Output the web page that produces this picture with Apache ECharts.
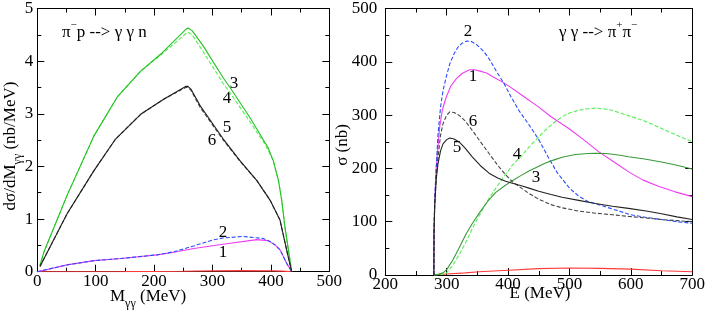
<!DOCTYPE html>
<html><head><meta charset="utf-8">
<script src="https://cdn.jsdelivr.net/npm/echarts@6/dist/echarts.min.js"></script>
<style>html,body{margin:0;padding:0;background:#fff}#c{width:708px;height:310px}</style>
</head><body><div id="c"></div>
<script>
// ---------- Left panel: pi- p --> gamma gamma n ; dsigma/dM (nb/MeV) vs M (MeV)
const leftXTicks = [0, 100, 200, 300, 400, 500];
const leftYTicks = [0, 1, 2, 3, 4, 5];
// curve 1 (magenta solid)
const l1M = [0, 51, 97, 143, 205, 234, 268, 318, 376, 395, 408, 416, 427, 435.6];
const l1V = [0, 0.13, 0.21, 0.25, 0.32, 0.37, 0.44, 0.52, 0.61, 0.59, 0.5, 0.41, 0.16, 0];
// curve 2 (blue dashed)
const l2M = [0, 51, 97, 143, 205, 234, 268, 300, 318, 353, 387, 400, 408, 416, 427, 435.6];
const l2V = [0, 0.13, 0.21, 0.25, 0.32, 0.38, 0.49, 0.6, 0.64, 0.67, 0.63, 0.57, 0.5, 0.41, 0.16, 0];
// curve 3 (green solid)
const l3M = [4.6, 11.5, 51, 97, 137, 177, 214, 254, 258, 265, 284, 318, 330, 364, 395, 404, 413, 418.5, 424, 430, 435.6];
const l3V = [0.12, 0.38, 1.45, 2.58, 3.32, 3.81, 4.16, 4.6, 4.63, 4.58, 4.29, 3.69, 3.5, 2.93, 2.36, 2.11, 1.73, 1.36, 0.85, 0.41, 0];
// curve 4 (green dashed)
const l4M = [4.6, 11.5, 51, 97, 137, 177, 214, 254, 258, 265, 284, 318, 330, 364, 390, 404, 413, 418.5, 424, 430, 435.6];
const l4V = [0.12, 0.38, 1.45, 2.58, 3.32, 3.81, 4.14, 4.52, 4.55, 4.5, 4.18, 3.58, 3.4, 2.85, 2.42, 2.11, 1.73, 1.36, 0.85, 0.41, 0];
// curve 5 (black solid)
const l5M = [4.6, 51, 97, 134, 177, 217, 254, 258, 263, 279, 318.5, 347, 376, 398.5, 415.6, 427, 435.6];
const l5V = [0.1, 1.1, 1.92, 2.52, 2.99, 3.28, 3.52, 3.52, 3.47, 3.15, 2.52, 2.11, 1.73, 1.36, 0.98, 0.41, 0];
// curve 6 (black dashed)
const l6M = [4.6, 51, 97, 134, 177, 217, 254, 258, 263, 279, 318.5, 347, 376, 398.5, 415.6, 427, 435.6];
const l6V = [0.1, 1.1, 1.92, 2.52, 2.99, 3.28, 3.5, 3.5, 3.45, 3.12, 2.5, 2.1, 1.73, 1.36, 0.98, 0.41, 0];
// unlabeled red curve
const l0M = [0, 150, 250, 300, 350, 400, 420, 435.6];
const l0V = [0, 0.002, 0.008, 0.015, 0.02, 0.015, 0.01, 0];

// ---------- Right panel: gamma gamma --> pi+ pi- ; sigma (nb) vs E (MeV)
const rightXTicks = [200, 300, 400, 500, 600, 700];
const rightYTicks = [0, 100, 200, 300, 400, 500];
const r1E = [279.1, 279.4, 280.5, 283, 288.5, 293, 299, 307, 315.5, 325, 337, 345, 353, 365, 375, 394, 403, 418, 434, 451, 470, 500, 525, 548, 575, 597, 620, 646, 672, 700];
const r1S = [0, 80, 135, 202, 277, 310, 333, 355, 368, 378, 385, 385, 383, 379, 372, 360, 353, 341, 328, 314, 297, 274, 252, 231, 210, 193, 178, 166, 156, 147];
const r2E = [279.1, 279.4, 280.5, 282, 285.8, 290, 294, 300, 305, 312, 318, 325, 333, 340, 348, 360, 370, 380, 394, 405, 418, 434, 450, 465, 480, 500, 515, 530, 553, 575, 600, 625, 650, 675, 700];
const r2S = [0, 80, 140, 180, 262, 315, 346, 375, 396, 415, 427, 435, 439, 438, 433, 420, 404, 384, 358, 334, 308, 282, 254, 222, 192, 163, 148, 138, 130, 122, 113, 108, 104, 100, 97];
const r3E = [279.1, 285, 294, 300, 310, 320, 332, 342, 353, 366, 380, 394, 407, 420, 434, 450, 461, 475, 488, 510, 530, 542, 560, 580, 596, 620, 650, 675, 700];
const r3S = [0, 1, 4, 10, 28, 50, 78, 97, 116, 137, 155, 167, 177, 186, 195, 204, 210, 216, 221, 226, 228, 228.5, 228, 225, 222, 218, 212, 206, 199];
const r4E = [279.1, 290, 299, 310, 321, 332, 342, 355, 369, 383, 396, 407, 423, 434, 450, 461, 475, 488, 500, 515, 530, 542, 555, 569, 585, 596, 620, 650, 675, 700];
const r4S = [0, 0.5, 3, 18, 40, 63, 88, 116, 144, 168, 189, 206, 225, 240, 259, 272, 286, 297, 304, 309, 312, 313, 312, 309, 303, 299, 290, 275, 262, 250];
const r5E = [279.1, 279.4, 280.5, 283, 285.8, 290, 294, 300, 305, 312, 321, 330, 342, 355, 369, 383, 396, 407, 423, 434, 450, 470, 488, 515, 542, 570, 596, 625, 650, 675, 700];
const r5S = [0, 80, 130, 180, 209, 233, 246, 254, 257, 255, 249, 238, 221, 205, 191, 182, 176, 172, 167, 163, 157, 151, 146, 140, 134, 129, 125, 120, 115, 109, 104];
const r6E = [279.1, 279.4, 280.5, 283, 285.8, 290, 294, 300, 305, 312, 321, 330, 342, 355, 369, 383, 396, 407, 423, 434, 450, 470, 488, 515, 542, 570, 596, 625, 650, 675, 700];
const r6S = [0, 80, 135, 185, 220, 262, 284, 300, 306, 305, 299, 289, 271, 250, 228, 206, 188, 175, 162, 153, 142, 132, 126, 120, 116, 113, 110, 107, 104, 102, 100];
const r0E = [279.1, 300, 330, 353, 400, 450, 500, 550, 600, 650, 700];
const r0S = [0, 2, 4, 6, 9, 12, 13, 12.5, 11, 8, 6];

// ---------- build
const FONT = 'Liberation Serif';
const zip = (xs, ys) => xs.map((x, i) => [x, ys[i]]);
const C = { mag: '#f03cf0', blue: '#2a4cff', green: '#22c022', greenR: '#3a9a3a', greenD: '#55ee55', black: '#222', blackD: '#444', red: '#ff3a3a' };

function axis(grid, pos, ticks, labels, margin) {
  return {
    type: 'value', gridIndex: grid, position: pos,
    min: ticks[0], max: ticks[ticks.length - 1], interval: ticks[1] - ticks[0],
    axisLine: { show: true, onZero: false, lineStyle: { color: '#000', width: 1 } },
    axisTick: { show: true, inside: true, length: 7, lineStyle: { color: '#000', width: 1 } },
    minorTick: { show: true, splitNumber: 2, length: 4, lineStyle: { color: '#000', width: 1 } },
    splitLine: { show: false }, minorSplitLine: { show: false },
    axisLabel: { show: labels, color: '#000', fontFamily: FONT, fontSize: 17, margin: margin }
  };
}
function line(xi, yi, data, color, dashed) {
  return {
    type: 'line', xAxisIndex: xi, yAxisIndex: yi, data: data, symbol: 'none', showSymbol: false,
    smooth: false,
    lineStyle: { color: color, width: 1.1, type: dashed ? [4, 2] : 'solid' },
    silent: true, animation: false
  };
}
function label(x, y, t) {
  return { type: 'text', x: x, y: y, style: { text: t, fontFamily: FONT, fontSize: 17, fill: '#000', align: 'center', verticalAlign: 'middle' } };
}
const richBase = {
  a: { fontFamily: FONT, fontSize: 17, fill: '#000', lineHeight: 26, verticalAlign: 'middle' },
  sup: { fontFamily: FONT, fontSize: 11, fill: '#000', lineHeight: 11, verticalAlign: 'top' },
  sub: { fontFamily: FONT, fontSize: 12, fill: '#000', lineHeight: 12, verticalAlign: 'bottom' }
};

const chart = echarts.init(document.getElementById('c'), null, { renderer: 'canvas' });
chart.setOption({
  animation: false,
  backgroundColor: '#fff',
  grid: [
    { left: 37.3, right: 378.7, top: 7.2, bottom: 38.3, show: false },
    { left: 385.3, right: 13.7, top: 7.5, bottom: 35, show: false }
  ],
  xAxis: [
    axis(0, 'bottom', leftXTicks, true, 1),
    axis(0, 'top', leftXTicks, false, 1),
    axis(1, 'bottom', rightXTicks, true, 1),
    axis(1, 'top', rightXTicks, false, 1)
  ],
  yAxis: [
    axis(0, 'left', leftYTicks, true, 4),
    axis(0, 'right', leftYTicks, false, 4),
    axis(1, 'left', rightYTicks, true, 8),
    axis(1, 'right', rightYTicks, false, 4)
  ],
  series: [
    line(0, 0, zip(l0M, l0V), C.red, false),
    line(0, 0, zip(l1M, l1V), C.mag, false),
    line(0, 0, zip(l2M, l2V), C.blue, true),
    line(0, 0, zip(l4M, l4V), C.greenD, true),
    line(0, 0, zip(l3M, l3V), C.green, false),
    line(0, 0, zip(l6M, l6V), C.blackD, true),
    line(0, 0, zip(l5M, l5V), C.black, false),
    line(2, 2, zip(r0E, r0S), C.red, false),
    line(2, 2, zip(r1E, r1S), C.mag, false),
    line(2, 2, zip(r2E, r2S), C.blue, true),
    line(2, 2, zip(r4E, r4S), C.greenD, true),
    line(2, 2, zip(r3E, r3S), C.greenR, false),
    line(2, 2, zip(r6E, r6S), C.blackD, true),
    line(2, 2, zip(r5E, r5S), C.black, false)
  ],
  graphic: [
    // panel titles
    { type: 'text', x: 62, y: 33, style: { text: '{a|π}{sup|−}{a|p --> γ γ n}', rich: richBase, align: 'left', verticalAlign: 'middle' } },
    { type: 'text', x: 559, y: 33, style: { text: '{a|γ γ --> π}{sup|+}{a|π}{sup|−}', rich: richBase, align: 'left', verticalAlign: 'middle' } },
    // axis titles
    { type: 'text', x: 110, y: 297, style: { text: '{a|M}{sub|γγ}{a| (MeV)}', rich: richBase, align: 'left', verticalAlign: 'middle' } },
    { type: 'text', x: 540, y: 294, style: { text: '{a|E (MeV)}', rich: richBase, align: 'center', verticalAlign: 'middle' } },
    { type: 'text', x: 11, y: 146, rotation: Math.PI / 2, style: { text: '{a|dσ/dM}{sub|γγ}{a| (nb/MeV)}', rich: richBase, align: 'center', verticalAlign: 'middle' } },
    { type: 'text', x: 343, y: 145, rotation: Math.PI / 2, style: { text: '{a|σ (nb)}', rich: richBase, align: 'center', verticalAlign: 'middle' } },
    // curve numbers, left
    label(234, 84, '3'), label(227, 99, '4'), label(227, 128, '5'), label(212, 141, '6'),
    label(223, 233, '2'), label(223, 253, '1'),
    // curve numbers, right
    label(468, 32, '2'), label(473, 77, '1'), label(473, 122, '6'), label(457, 148, '5'),
    label(517, 155, '4'), label(536, 178, '3')
  ]
});
</script></body></html>
